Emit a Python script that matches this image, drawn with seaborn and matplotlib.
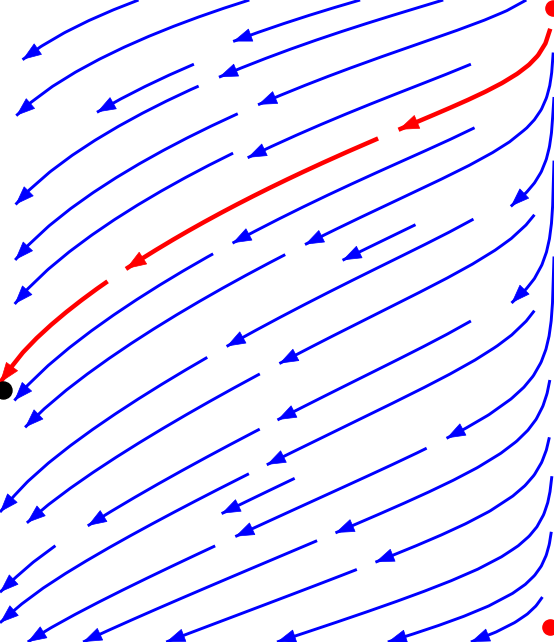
import numpy as np
import matplotlib
matplotlib.use("Agg")
import matplotlib.pyplot as plt
from matplotlib.patches import FancyArrowPatch
import seaborn as sns

sns.set_theme(style="white")

# domain (data units)
x_range = [0.0, 1.0]
y_range = [0.0, 642 / 554]

# field shape parameters
left_power = 0.3
right_scale = 0.1
v_peak = 0.53
v_curve = 0.35
y_mid = 0.563
y_spread = 0.54

# marked points
red_points_x = [0.998, 0.993]
red_points_y = [1.145, 0.027]
black_point_x = [0.005]
black_point_y = [0.455]
red_start = [[0.998, 1.145]]
red_breaks = [(0.285, 0.315), (0.745, 0.775)]   # arc-length fractions of gaps

H = y_range[1]
xs = np.linspace(0.0, 1.0, 240)
ys = np.linspace(0.0, H, 278)
X, Y = np.meshgrid(xs, ys)
fx = (X ** left_power) * (1 - np.exp(-(1 - X) / right_scale))
fx = fx / ((0.5 ** left_power) * (1 - np.exp(-0.5 / right_scale)))
U = -fx
V = -v_peak * (1 - v_curve * ((Y - y_mid) / y_spread) ** 2)

fig = plt.figure(figsize=(5.54, 6.42), dpi=100)
ax = fig.add_axes([0, 0, 1, 1])
ax.set_xlim(*x_range)
ax.set_ylim(*y_range)
ax.axis("off")

BLUE = "#0000ff"
RED = "#ff0000"
STEP = 0.004


def arclen(pts):
    return np.cumsum(np.r_[0, np.hypot(*np.diff(pts, axis=0).T)])


def resample(pts):
    d = arclen(pts)
    if d[-1] <= 0:
        return pts[:1]
    s = np.linspace(0, d[-1], max(int(d[-1] / STEP), 2) + 1)
    return np.column_stack([np.interp(s, d, pts[:, 0]), np.interp(s, d, pts[:, 1])])


def add_head(pts, color, ms, back_len=0.05):
    d = arclen(pts)
    if d[-1] < 0.03:
        return
    s0 = d[-1] - back_len
    pa = (np.interp(s0, d, pts[:, 0]), np.interp(s0, d, pts[:, 1]))
    p = FancyArrowPatch(posA=pa, posB=tuple(pts[-1]),
                        arrowstyle="-|>,head_length=0.55,head_width=0.2",
                        mutation_scale=ms, facecolor=color, edgecolor=color,
                        linewidth=0.5, shrinkA=0, shrinkB=0, zorder=4,
                        transform=ax.transData)
    ax.add_patch(p)


def draw_piece(piece, color, lw, ms):
    ax.plot(piece[:, 0], piece[:, 1], color=color, lw=lw,
            solid_capstyle="butt", zorder=3)
    add_head(piece, color, ms)


# red trajectory
rp = ax.streamplot(X, Y, U, V, start_points=red_start, color=RED, linewidth=3.2,
                   arrowstyle="-", integration_direction="forward",
                   broken_streamlines=False)
for p in list(ax.patches):
    p.remove()
red_pts = resample(np.asarray(rp.lines.get_segments()[0]))
rp.lines.remove()

# blue field
sp = ax.streamplot(X, Y, U, V, density=0.72, color=BLUE, linewidth=2.1,
                   arrowstyle="-", minlength=0.12)
for p in list(ax.patches):
    p.remove()
blue_segs = [resample(np.asarray(s)) for s in sp.lines.get_segments()]
sp.lines.remove()

max_len = 0.62
gap = 0.035
clear = 0.019
for seg in blue_segs:
    if seg[:, 0].max() < 0.02:
        continue
    dist = np.min(np.hypot(seg[:, None, 0] - red_pts[None, :, 0],
                           seg[:, None, 1] - red_pts[None, :, 1]), axis=1)
    keep = dist > clear
    idx = np.flatnonzero(np.diff(np.r_[0, keep.astype(int), 0]))
    for r0, r1 in zip(idx[0::2], idx[1::2]):
        run = seg[r0:r1]
        if len(run) < 12:
            continue
        d = arclen(run)
        n = int(np.ceil(d[-1] / max_len))
        step = d[-1] / n
        for k in range(n):
            a = k * step + (gap if k > 0 else 0)
            b = (k + 1) * step
            piece = run[(d >= a) & (d <= b)]
            if len(piece) > 5:
                draw_piece(piece, BLUE, 2.1, 23)

frac = arclen(red_pts) / arclen(red_pts)[-1]
edges = [0.0] + [b for g in red_breaks for b in g] + [1.0]
for a, b in zip(edges[0::2], edges[1::2]):
    draw_piece(red_pts[(frac >= a) & (frac <= b)], RED, 3.2, 25)

ax.scatter(red_points_x, red_points_y, s=120, color=RED, zorder=5, clip_on=False)
ax.scatter(black_point_x, black_point_y, s=150, color="black", zorder=5, clip_on=False)
fig.savefig("out.png", dpi=100)
